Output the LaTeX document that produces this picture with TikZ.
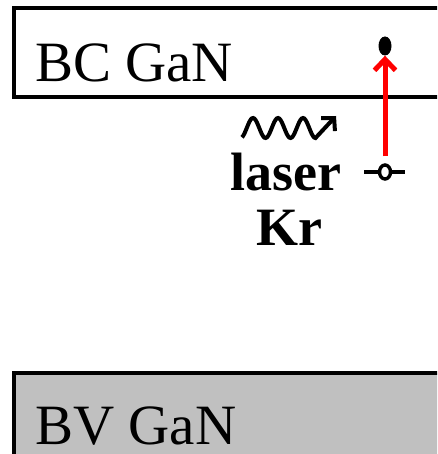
\documentclass[tikz,border=0pt]{standalone}
\usepackage{fontspec}
\setmainfont{Liberation Serif}
\usepackage{tikz}
\usetikzlibrary{arrows.meta,positioning,shapes.geometric}
\definecolor{bandgrey}{RGB}{192,192,192}
\definecolor{arrowred}{RGB}{255,0,0}

\begin{document}
\begin{tikzpicture}[x=1pt, y=-1pt, band/.style={line width=3.4pt}, bandlabel/.style={anchor=base west, inner sep=0pt, text depth=0pt, font=\fontsize{57}{60}\selectfont}, lasertext/.style={anchor=base, inner sep=0pt, text depth=0pt, font=\bfseries\fontsize{54}{53}\selectfont}]
\useasboundingbox (0,0) rectangle (437,454);
\clip (0,0) rectangle (437,454);
% bands
\draw[band, fill=white] (14,8) rectangle (450,97);
\draw[band, fill=bandgrey] (14,373) rectangle (450,470);
\node[bandlabel] (bc) at (35,82) {BC GaN};
\node[bandlabel] (bv) at (35,444) {BV GaN};
% laser excitation
\node[lasertext] (laser) at (286,190) {laser};
\node[lasertext] (kr) at (289,245) {Kr};
\coordinate (wend) at (336,116);
\draw[line width=4pt, -{Straight Barb[length=9pt, width=19pt]}] plot[domain=242:315.5, samples=60, smooth] (\x, {128-10*sin((\x-246.75)*14.4)}) -- (wend);
% electron and hole
\node[ellipse, fill=black, minimum width=13pt, minimum height=19pt, inner sep=0pt] (electron) at (385,46) {};
\coordinate (hleft) at (364,172);
\coordinate (hright) at (405,172);
\draw[line width=3.6pt] (hleft) -- (hright);
\node[ellipse, draw, fill=white, line width=3.4pt, minimum width=11pt, minimum height=14pt, inner sep=0pt] (hole) at (385,172) {};
\draw[arrowred, line width=5pt, shorten <=7pt, -{Straight Barb[length=11pt, width=21pt]}] (hole.north) -- (electron.south);
\end{tikzpicture}
\end{document}
